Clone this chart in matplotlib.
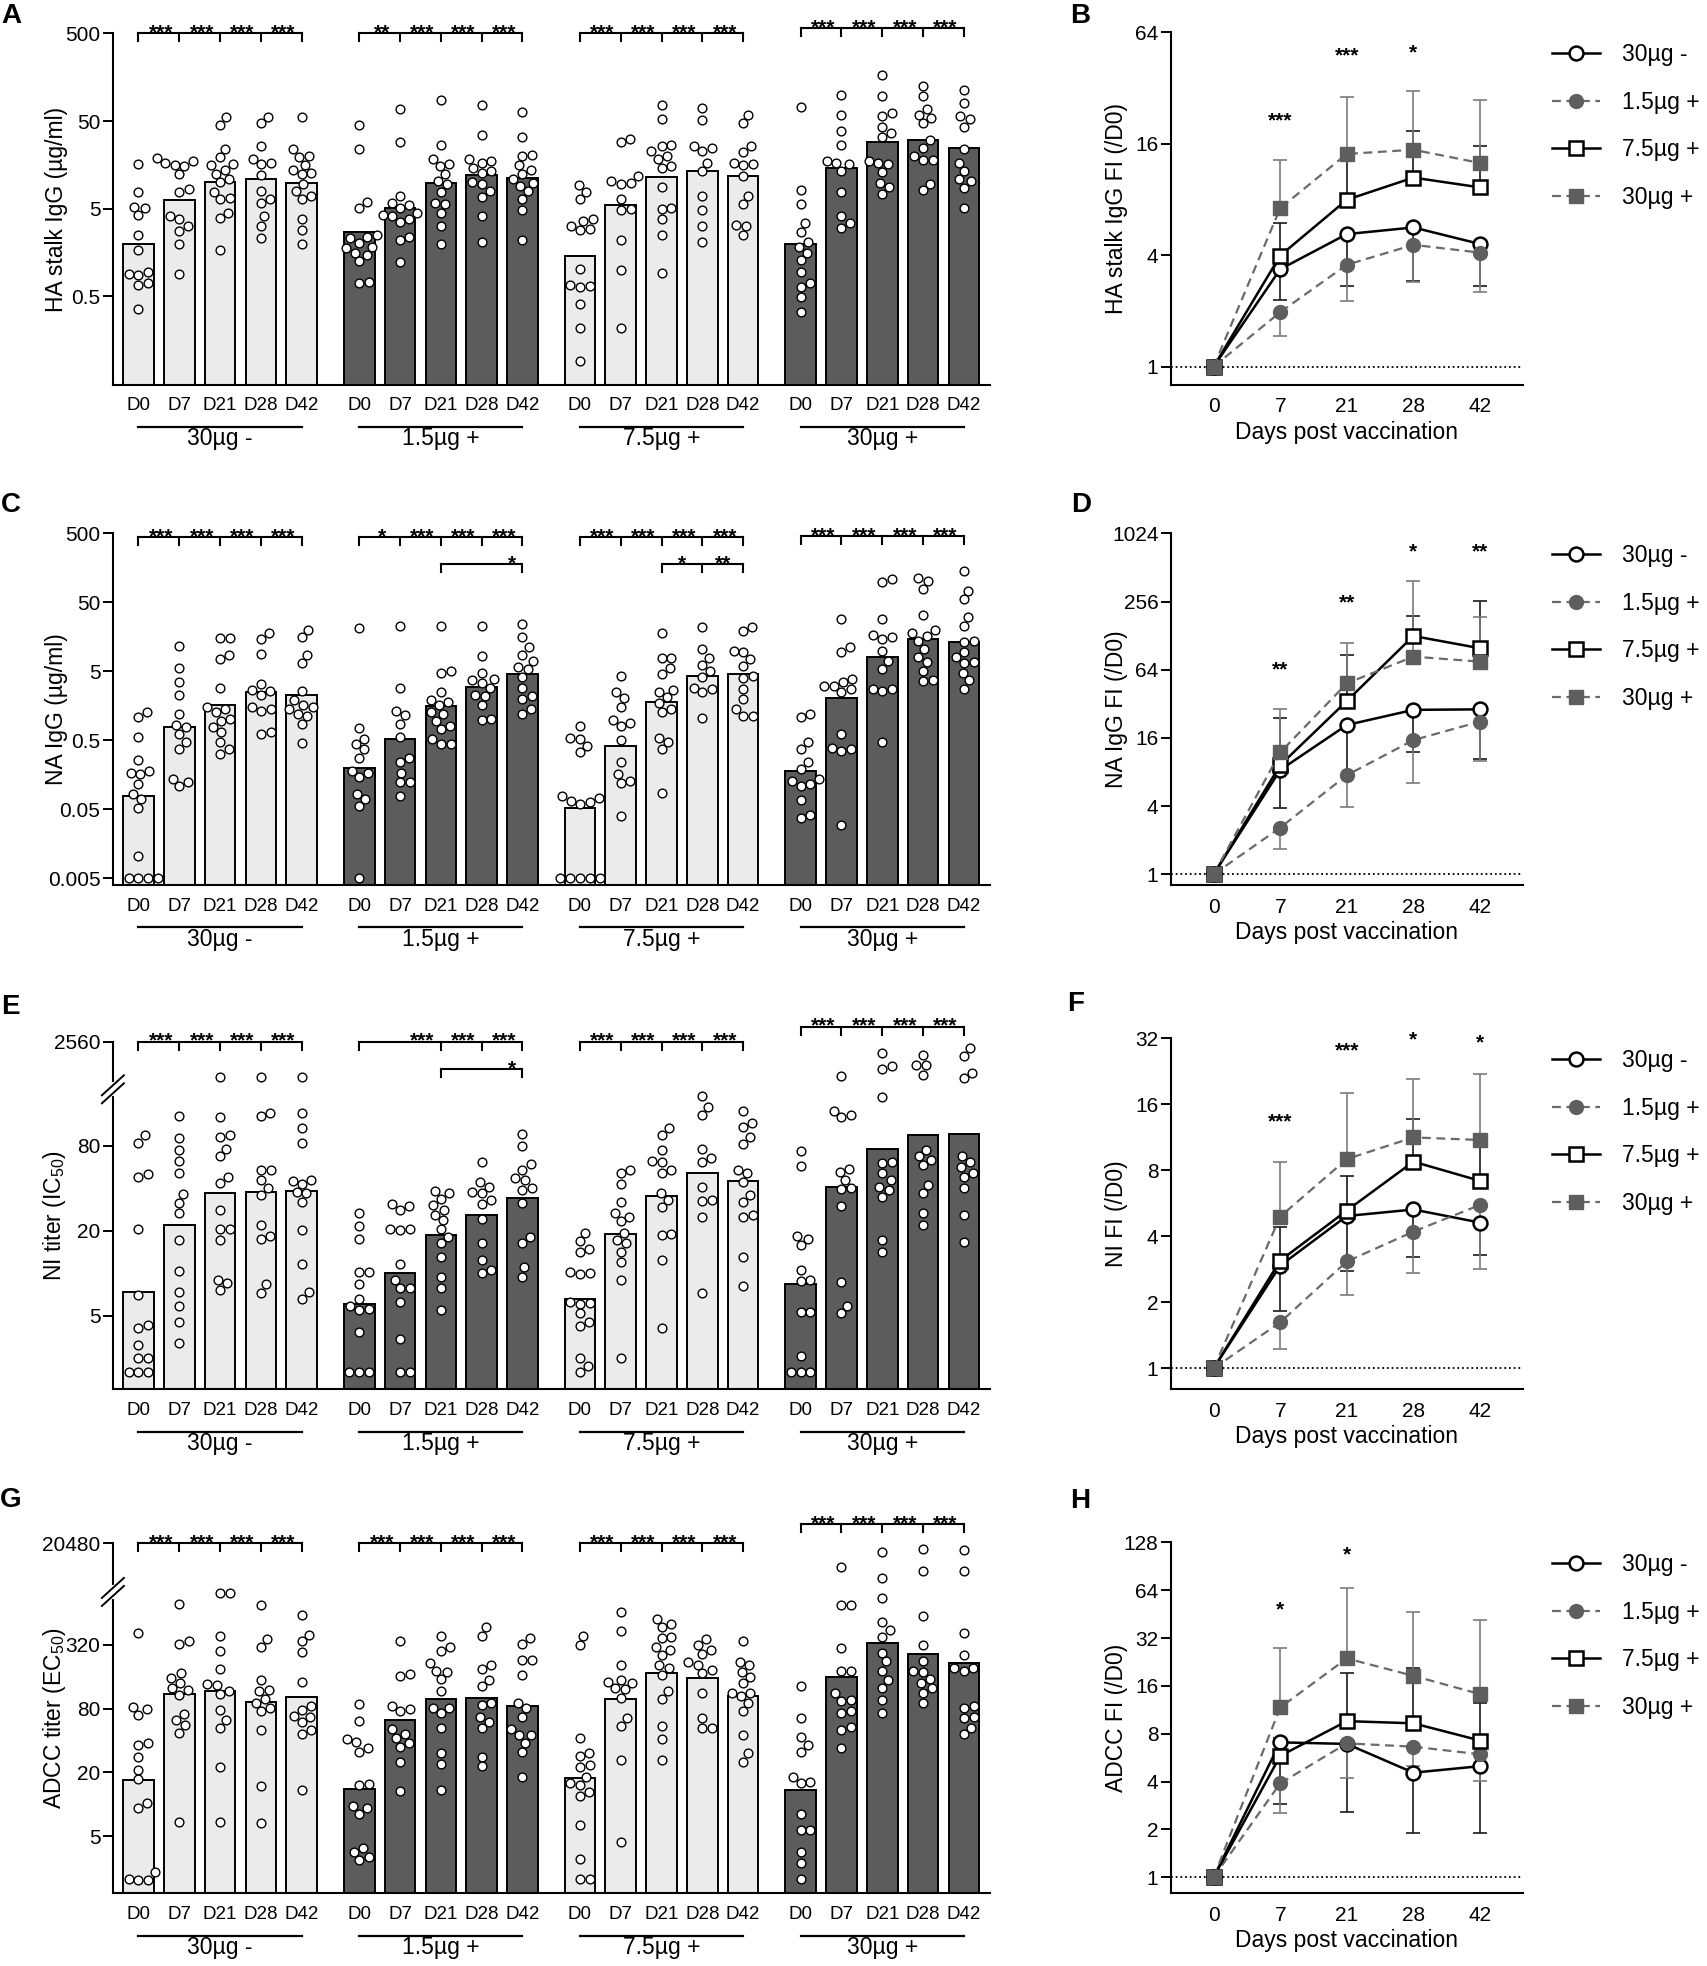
import numpy as np
import matplotlib
matplotlib.use('Agg')
import matplotlib.pyplot as plt
from matplotlib.ticker import FixedLocator, FixedFormatter, NullLocator

plt.rcParams['font.family'] = ['Liberation Sans', 'DejaVu Sans']
plt.rcParams['mathtext.fontset'] = 'custom'
plt.rcParams['mathtext.rm'] = 'Liberation Sans'
plt.rcParams['mathtext.it'] = 'Liberation Sans:italic'

W, H = 1708, 1966

groups = ['30µg -', '1.5µg +', '7.5µg +', '30µg +']
days = ['D0', 'D7', 'D21', 'D28', 'D42']
days_num = ['0', '7', '21', '28', '42']

# ---------------- bar panels: geometric mean bars + individual animals ----------------
ha_bar = [[1.96, 6.3, 10.1, 10.8, 9.9], [2.7, 5.1, 9.9, 12.1, 11.3],
          [1.44, 5.5, 11.5, 13.4, 11.8], [2.0, 14.7, 28.7, 30, 24.8]]
ha_pts = [
    [[16, 7.8, 5.3, 5.1, 4.2, 2.5, 1.7, 0.91, 0.95, 0.89, 0.72, 0.67, 0.36],
     [19.1, 17.5, 16.7, 15.6, 15.3, 12.3, 8.4, 7.8, 4.1, 3.8, 3.2, 2.8, 1.96, 0.91],
     [55.5, 45.6, 24.3, 19.4, 16, 15.7, 14, 12.6, 10.8, 10, 7.8, 6.7, 6.4, 4.5, 3.9, 1.7],
     [56, 47, 26, 18.6, 16.7, 16, 12, 7.9, 6.4, 5.8, 4.1, 3.2, 2.3],
     [55.5, 23.7, 19.9, 19.4, 15.7, 14, 12.9, 12.3, 9.5, 7.9, 7.0, 6.4, 3.8, 2.85, 1.96]],
    [[45, 24.3, 6.0, 5.1, 2.5, 2.4, 2.3, 2.05, 1.84, 1.8, 1.58, 1.47, 1.26, 0.73, 0.72],
     [68, 28.7, 6.97, 5.8, 5.5, 5.1, 4.5, 4.3, 4.1, 3.8, 3.5, 2.4, 2.2, 1.24],
     [87, 27, 18.6, 16, 15.3, 12.3, 10.3, 9.5, 7.8, 5.8, 5.7, 4.5, 3.2, 1.98],
     [77, 34.4, 18.6, 17.5, 16.7, 14.7, 13.4, 12.9, 10, 9.5, 7.9, 6.85, 4.1, 2.1],
     [64, 33, 20.3, 19.9, 15.6, 14, 12.3, 10.8, 9.9, 9.1, 7.9, 6.4, 4.8, 2.2]],
    [[9.3, 7.8, 6.4, 3.8, 3.6, 3.2, 2.95, 2.83, 1.03, 0.66, 0.65, 0.67, 0.41, 0.22, 0.091],
     [31.5, 28.7, 11.8, 10.3, 9.9, 9.7, 6.4, 5, 4.9, 2.2, 1.0, 0.22],
     [77, 53, 27, 25.9, 22.7, 19.9, 18.6, 15.3, 14.7, 8.9, 5.1, 5, 3.8, 2.5, 0.93],
     [71, 52, 25.9, 24.8, 22.7, 16.7, 13.4, 7.0, 4.9, 3.2, 2.1],
     [59, 47, 25.9, 22, 16.7, 16, 15.6, 11.8, 7.0, 5.6, 3.3, 3.2, 2.5]],
    [[73, 8.1, 5.7, 3.4, 2.7, 2.1, 1.84, 1.58, 1.31, 0.95, 0.72, 0.65, 0.49, 0.33],
     [100, 58, 38, 27, 17.5, 16.7, 16, 13.4, 7.8, 4.1, 3.4, 3.0],
     [168, 96, 61, 57, 43, 37, 33, 17.5, 16.7, 16, 13, 9.9, 8.9, 7.3],
     [127, 96, 68, 59, 54, 47, 30, 24.8, 19.9, 18.2, 17.8, 9.6, 8.1],
     [112, 81, 57, 53, 43, 24, 16.7, 13.4, 10.8, 10.3, 8.7, 5.1]]]

na_bar = [[0.079, 0.77, 1.6, 2.5, 2.3], [0.2, 0.52, 1.55, 3.0, 4.5],
          [0.053, 0.41, 1.78, 4.3, 4.5], [0.18, 2.05, 8.1, 14.7, 13.2]]
na_pts = [
    [[1.27, 1.08, 0.55, 0.26, 0.18, 0.17, 0.16, 0.116, 0.084, 0.071, 0.052, 0.0105, 0.005, 0.005, 0.005, 0.005],
     [11.8, 5.5, 3.55, 2.27, 1.22, 0.84, 0.78, 0.62, 0.47, 0.37, 0.138, 0.123, 0.108],
     [15.2, 15, 8.6, 7.5, 2.9, 1.5, 1.42, 1.27, 1.02, 0.96, 0.78, 0.65, 0.47, 0.37, 0.32],
     [18, 14.7, 8.9, 3.3, 2.7, 2.6, 2.3, 1.5, 1.42, 1.35, 0.65, 0.62],
     [19.9, 15.6, 8.7, 6.6, 2.6, 1.9, 1.6, 1.5, 1.42, 1.21, 1.14, 0.87, 0.46]],
    [[21, 0.75, 0.52, 0.44, 0.37, 0.28, 0.18, 0.17, 0.146, 0.084, 0.071, 0.055, 0.005],
     [23, 2.9, 1.35, 1.16, 0.87, 0.55, 0.28, 0.24, 0.17, 0.126, 0.123, 0.079],
     [23, 5, 4.8, 2.5, 1.95, 1.8, 1.6, 1.27, 1.2, 0.96, 0.81, 0.72, 0.52, 0.44, 0.44],
     [23, 8.3, 4.8, 3.9, 3.7, 3.4, 2.9, 2.3, 2.2, 1.62, 1.02, 1.0],
     [24.2, 15.9, 11.1, 8.7, 7.1, 5.7, 5.4, 4.1, 2.9, 2.2, 1.97, 1.42, 1.21]],
    [[0.81, 0.54, 0.52, 0.42, 0.34, 0.079, 0.072, 0.067, 0.063, 0.06, 0.005, 0.005, 0.005, 0.005, 0.005],
     [4.3, 2.5, 2.04, 1.5, 1.0, 0.89, 0.81, 0.5, 0.24, 0.164, 0.13, 0.12, 0.04],
     [18, 7.8, 7.7, 5.5, 4.6, 2.7, 2.5, 2.1, 1.74, 1.42, 1.27, 0.54, 0.48, 0.38, 0.087],
     [22.1, 10.5, 7.7, 6.2, 5.1, 4.1, 2.9, 2.8, 2.5, 1.04],
     [22, 19.5, 10, 9.4, 7.5, 6.0, 4.3, 4.0, 2.8, 1.97, 1.42, 1.14, 1.12]],
    [[1.21, 1.08, 0.47, 0.38, 0.24, 0.19, 0.138, 0.13, 0.116, 0.11, 0.069, 0.041, 0.037],
     [28.7, 11.1, 9.4, 3.9, 3.5, 3.1, 3.05, 2.8, 2.5, 0.62, 0.39, 0.38, 0.35, 0.03],
     [108, 97, 28.7, 16.8, 15.5, 14.7, 10, 7.1, 5.4, 2.8, 2.8, 2.6, 0.48],
     [111, 103, 77, 33, 20, 18, 16.4, 13.9, 10.5, 8.0, 6.9, 5.1, 3.7, 3.6],
     [144, 74, 55, 31, 23, 13.9, 13.2, 9.4, 8.0, 6.9, 6.7, 4.8, 3.7, 2.8]]]

ni_bar = [[7.4, 22, 37, 37.7, 38.3], [6.1, 10, 18.6, 26, 33.8],
          [6.6, 19, 35, 51, 44.6], [8.4, 41, 76, 95, 97]]
ni_pts = [
    [[95, 84, 50, 48, 20.7, 7.0, 4.3, 4.1, 3.1, 2.5, 2.5, 2.0, 2.0, 2.0],
     [130, 91, 74, 62, 51, 36.5, 31.5, 26.5, 17.3, 10.4, 7.4, 5.9, 4.5, 3.2],
     [1280, 127, 95, 92, 76, 67, 48, 43.7, 28.1, 20.7, 20.4, 17.3, 8.9, 8.5, 7.6],
     [1280, 136, 130, 54, 54, 46, 40, 35.7, 22, 18.3, 17.6, 8.4, 7.3],
     [1280, 136, 107, 84, 45.5, 44.9, 43.1, 37.7, 36.8, 32, 20.2, 11.7, 7.4, 6.6]],
    [[26.8, 21.6, 17.6, 10.2, 10.2, 8.4, 6.6, 5.9, 5.6, 5.5, 3.85, 2.0, 2.0, 2.0],
     [31, 29.8, 28.2, 20.7, 20.7, 20.2, 11.7, 8.9, 7.8, 7.8, 6.3, 3.4, 2.0, 2.0],
     [38.3, 36.8, 33.7, 30.4, 28.1, 26, 23.8, 20.4, 18.1, 16.3, 13.0, 9.4, 7.8, 5.5],
     [61, 44, 41, 37.7, 36.8, 33, 31, 24.1, 16.3, 12.5, 10.6, 10],
     [97, 79, 59, 54, 47, 45.5, 40, 39, 31.6, 17.9, 16.3, 11, 9.4]],
    [[19.4, 17, 14.8, 14.2, 10.2, 10, 9.8, 6.3, 6.2, 6.1, 5.2, 4.5, 4.2, 2.5, 2.2, 2.0],
     [54, 51, 42.6, 32, 26.6, 25.1, 23.3, 19.2, 17.3, 16.3, 14.2, 12.1, 9.0, 2.5],
     [106, 95, 75, 62, 61, 54, 51, 36.8, 33.2, 29.5, 19, 18.6, 12.5, 4.1],
     [178, 150, 131, 76, 65, 61, 40.9, 33.2, 32.2, 25.1, 7.2],
     [141, 116, 109, 92, 82, 54, 51, 44, 35.7, 32, 25.8, 25, 13, 8.1]],
    [[73, 57, 18.3, 17.6, 15.8, 10.6, 8.9, 8.8, 5.3, 5.3, 2.6, 2.0, 2.0, 2.0],
     [1285, 141, 131, 128, 55, 52, 45.5, 40, 39.3, 30, 8.7, 5.9, 5.2],
     [2040, 1567, 1486, 176, 61, 60, 51, 45.5, 41, 39, 34.6, 17.1, 14.2],
     [1970, 1622, 1600, 1327, 75, 67, 63, 58, 42.1, 36.8, 26.6, 22],
     [2250, 1935, 1390, 1242, 67, 61, 56, 51, 48, 40, 25.8, 16.7]]]

adcc_bar = [[17, 109, 118, 93, 102], [13.9, 62, 99, 101, 84],
            [17.7, 98, 171, 156, 104], [13.6, 158, 330, 260, 214]]
adcc_pts = [
    [[412, 83, 79, 70, 37.7, 36.4, 28.2, 21.3, 17.2, 10.3, 9.2, 2.3, 2.0, 1.96, 1.93],
     [776, 346, 325, 173, 154, 140, 124, 119, 108, 70.5, 62, 56, 47.1, 6.9],
     [970, 970, 385, 280, 187, 135, 133, 116, 109, 77, 63, 53, 22.4, 6.8],
     [752, 359, 305, 149, 119, 116, 98, 90, 81, 75, 50, 15, 6.7],
     [606, 395, 343, 271, 143, 84, 78, 68, 67, 60, 50, 46, 13.7]],
    [[89, 61, 41, 38.5, 33.9, 31.5, 15.6, 15.2, 9.7, 9.2, 8.2, 3.9, 3.6, 3.2, 3.0],
     [346, 169, 163, 84, 79, 75, 51, 46, 42, 37.7, 34.5, 25.3, 13.4],
     [385, 302, 280, 214, 182, 178, 151, 116, 81.5, 81.5, 72, 53, 30.4, 24, 13.7],
     [465, 385, 205, 188, 149, 129, 90, 87, 67, 60, 52, 28.2, 22.8],
     [366, 322, 229, 229, 165, 90, 81.5, 67, 51, 45, 45, 38, 31, 18.3]],
    [[385, 314, 42, 30.4, 28.7, 23.6, 22.7, 18, 15.9, 15.3, 13.2, 11.9, 6.4, 3.1, 2.0, 2.0],
     [650, 425, 206, 149, 143, 139, 124, 121, 100, 65, 55, 26.2, 4.4],
     [562, 502, 465, 376, 366, 305, 284, 257, 206, 191, 165, 116, 98, 55, 41, 26.3],
     [359, 318, 284, 263, 220, 206, 184, 171, 112, 65, 52, 52],
     [346, 220, 206, 178, 160, 139, 112, 112, 104, 90, 75, 45, 30.4, 25.3]],
    [[129, 65, 43, 35.9, 31.5, 18.3, 16.2, 15.9, 8.1, 5.8, 5.7, 3.6, 2.8, 2.0],
     [7530, 752, 752, 294, 182, 182, 112, 96, 95, 75, 72, 54, 50, 33.7],
     [14260, 4590, 877, 522, 437, 380, 269, 222, 182, 148, 124, 96, 72],
     [15740, 6250, 594, 318, 225, 182, 178, 153, 139, 124, 113, 90],
     [15350, 6300, 413, 257, 191, 191, 182, 84, 81.5, 67, 65, 53, 46]]]

# significance between consecutive time points, per group
sig_ha = [['***'] * 4, ['**', '***', '***', '***'], ['***'] * 4, ['***'] * 4]
sig_na = [['***'] * 4, ['*', '***', '***', '***'], ['***'] * 4, ['***'] * 4]
sig_ni = [['***'] * 4, ['', '***', '***', '***'], ['***'] * 4, ['***'] * 4]
sig_adcc = [['***'] * 4, ['***'] * 4, ['***'] * 4, ['***'] * 4]
# second-row brackets: group, tick days, stars (day position, text)
extra_na = [(1, [2, 4], [(3.75, '*')]), (2, [2, 3, 4], [(2.5, '*'), (3.5, '**')])]
extra_ni = [(1, [2, 4], [(3.75, '*')])]

# ---------------- fold increase panels ----------------
ha_fi = [[1, 3.36, 5.2, 5.65, 4.6], [1, 1.97, 3.55, 4.55, 4.13],
         [1, 3.98, 7.97, 10.5, 9.3], [1, 7.18, 14.1, 14.85, 12.6]]
ha_fi_err = [[2.3, 2.74, 2.9, 2.74], [1.47, 2.26, 2.85, 2.54],
             [6.0, 13.5, 18.7, 15.5], [13.1, 28.5, 30.7, 27.6]]
ha_fi_sig = [(1, '***', 22.9), (2, '***', 51.5), (3, '*', 53.6)]

na_fi = [[1, 8.34, 20.8, 28.3, 28.6], [1, 2.58, 7.5, 15.3, 22.3],
         [1, 9.2, 33.9, 127, 99], [1, 11.9, 48.5, 83.5, 75.4]]
na_fi_err = [[3.83, 7.6, 12.1, 10.4], [1.66, 3.95, 6.4, 10.0],
             [23.8, 86, 191, 261], [28.6, 111, 388, 185]]
na_fi_sig = [(1, '**', 73), (2, '**', 283), (3, '*', 807), (4, '**', 807)]

ni_fi = [[1, 2.94, 4.95, 5.3, 4.62], [1, 1.62, 3.07, 4.2, 5.56],
         [1, 3.1, 5.24, 8.76, 7.16], [1, 4.92, 9.0, 11.3, 11.0]]
ni_fi_err = [[1.83, 2.78, 3.23, 3.3], [1.23, 2.16, 2.71, 2.83],
             [4.4, 7.5, 13.7, 10.5], [8.76, 18, 20.9, 21.9]]
ni_fi_sig = [(1, '***', 14.3), (2, '***', 29.9), (3, '*', 33.8), (4, '*', 32.7)]

adcc_fi = [[1, 7.06, 6.9, 4.55, 5.0], [1, 3.9, 6.96, 6.63, 5.94],
           [1, 5.8, 9.6, 9.3, 7.25], [1, 11.7, 23.8, 18.5, 14.2]]
adcc_fi_err = [[2.88, 2.56, 1.91, 1.89], [2.55, 4.2, 5.0, 4.03],
               [7.5, 19.2, 20.8, 12.5], [27.5, 65.7, 46.9, 41.6]]
adcc_fi_sig = [(1, '*', 52.8), (2, '*', 117)]

err_dir = ['down', 'down', 'up', 'up']

GAP = 5.41
FILLS = ['#ebebeb', '#5c5c5c', '#ebebeb', '#5c5c5c']
GRAY = '#6a6a6a'


def broken_log(lo, hi, top, top_pos):
    # log axis with a compressed upper segment above an axis break
    lx = [-6.0, np.log10(lo), np.log10(hi), np.log10(top)]
    lp = [-6.0, np.log10(lo), np.log10(lo) + 1e-3, top_pos]
    k = (lp[3] - lp[2]) / (lx[3] - lx[2])
    lx.append(lx[3] + 3)
    lp.append(lp[3] + 3 * k)
    lx, lp = np.array(lx), np.array(lp)

    def fwd(v):
        v = np.clip(np.asarray(v, dtype=float), 1e-6, None)
        return np.interp(np.log10(v), lx, lp)

    def inv(p):
        return 10 ** np.interp(np.asarray(p, dtype=float), lp, lx)
    return fwd, inv


def px_axes(fig, left, top, right, bottom):
    return fig.add_axes([left / W, 1 - bottom / H, (right - left) / W, (bottom - top) / H])


def swarm(ypix, d):
    xs = np.zeros(len(ypix))
    placed = []
    for i in np.argsort(ypix):
        y = ypix[i]
        cands = [0.0]
        for px, py in placed:
            dy = abs(py - y)
            if dy < d:
                dx = np.sqrt(d * d - dy * dy)
                cands += [px + dx, px - dx]
        cands.sort(key=abs)
        for c in cands:
            if all((c - px) ** 2 + (y - py) ** 2 >= d * d - 1e-6 for px, py in placed):
                xs[i] = c
                break
        placed.append((xs[i], y))
    return xs


def star(ax, x, y, text, trans, dy=-3.5, size=15):
    ax.annotate(text, (x, y), xycoords=trans, xytext=(0, dy), textcoords='offset points',
                ha='center', va='baseline', fontsize=size, fontweight='bold',
                annotation_clip=False)


def bar_panel(ax, pts, bars, scale, ylim, ticks, labels, ylabel, sig, levels,
              extra=(), extra_level=0, brk=None):
    hpx = ax.get_position().height * H
    if scale == 'log':
        ax.set_yscale('log')
    else:
        ax.set_yscale('function', functions=scale)
    ax.set_ylim(*ylim)
    ax.set_xlim(-0.627, 20.87)
    ymin = ylim[0]
    for g in range(4):
        xs = g * GAP + np.arange(5)
        ax.bar(xs, np.array(bars[g]) - ymin, bottom=ymin, width=0.75, color=FILLS[g],
               edgecolor='black', linewidth=1.4, zorder=2)
    unit = ax.transData.transform((1, ymin))[0] - ax.transData.transform((0, ymin))[0]
    for g in range(4):
        for i in range(5):
            v = np.array(pts[g][i], dtype=float)
            xc = g * GAP + i
            ypix = ax.transData.transform(np.column_stack([np.full(len(v), xc), v]))[:, 1]
            off = swarm(ypix, 9.8) / unit
            ax.plot(xc + off, v, ls='none', marker='o', ms=6.3, mfc='white', mec='black',
                    mew=1.0, zorder=3, clip_on=False)

    ax.yaxis.set_major_locator(FixedLocator(ticks))
    ax.yaxis.set_major_formatter(FixedFormatter(labels))
    ax.yaxis.set_minor_locator(NullLocator())
    ax.set_xticks([g * GAP + i for g in range(4) for i in range(5)])
    ax.set_xticklabels(days * 4)
    ax.tick_params(axis='y', length=7, width=1.4, labelsize=15, pad=2)
    ax.tick_params(axis='x', length=0, labelsize=13.5, pad=9)
    for s in ('top', 'right'):
        ax.spines[s].set_visible(False)
    for s in ('left', 'bottom'):
        ax.spines[s].set_linewidth(1.5)
    ax.set_ylabel(ylabel, fontsize=16.5)
    ax.yaxis.set_label_coords(-0.051, 0.5)

    tr = ax.get_xaxis_transform()
    for g in range(4):
        x0 = g * GAP
        y = 1 + levels[g] / hpx
        ax.plot([x0, x0 + 4], [y, y], color='k', lw=1.5, transform=tr, clip_on=False)
        s = sig[g]
        for i in range(5):
            if i in (0, 4) or (s[i - 1] and s[i]):
                ax.plot([x0 + i, x0 + i], [y, y - 8 / hpx], color='k', lw=1.5,
                        transform=tr, clip_on=False)
        for i, t in enumerate(s):
            if t:
                star(ax, x0 + i + 0.55, y, t, tr)
        # group label under the axis
        ax.plot([x0, x0 + 4], [-42.3 / hpx] * 2, color='k', lw=1.6, transform=tr, clip_on=False)
        ax.text(x0 + 2, -54 / hpx, groups[g], transform=tr, ha='center', va='center',
                fontsize=16.5)
    for g, tks, stars in extra:
        x0 = g * GAP
        y = 1 + extra_level / hpx
        ax.plot([x0 + tks[0], x0 + tks[-1]], [y, y], color='k', lw=1.5, transform=tr,
                clip_on=False)
        for t in tks:
            ax.plot([x0 + t, x0 + t], [y, y - 8 / hpx], color='k', lw=1.5, transform=tr,
                    clip_on=False)
        for xs_, t in stars:
            star(ax, x0 + xs_, y, t, tr)

    if brk is not None:
        wpx = ax.get_position().width * W
        yb = ax.transAxes.inverted().transform(ax.transData.transform((0, brk)))[1]
        dx, dy = 11 / wpx, 10 / hpx
        ax.plot([0, 0], [yb - 5 / hpx, yb + 5 / hpx], color='white', lw=3,
                transform=ax.transAxes, clip_on=False, zorder=5)
        for sh in (-4, 4):
            ax.plot([-dx, dx], [yb + sh / hpx - dy, yb + sh / hpx + dy], color='k', lw=1.4,
                    transform=ax.transAxes, clip_on=False, zorder=6)


def line_panel(fig, ax, means, ends, ticks, ylabel, sigs, bottom, top_px):
    styles = [
        dict(color='black', ls='-', lw=1.8, marker='o', ms=10, mfc='white', mec='black', mew=1.8),
        dict(color=GRAY, ls=(0, (4, 2.5)), lw=1.6, marker='o', ms=10, mfc='#5e5e5e',
             mec='#5e5e5e', mew=1.0),
        dict(color='black', ls='-', lw=1.8, marker='s', ms=9.5, mfc='white', mec='black', mew=1.8),
        dict(color=GRAY, ls=(0, (4, 2.5)), lw=1.6, marker='s', ms=10, mfc='#5e5e5e',
             mec='#5e5e5e', mew=1.0)]
    ecols = ['#1a1a1a', '#7c7c7c', '#1a1a1a', '#7c7c7c']
    x = np.arange(5)
    ax.set_yscale('log', base=2)
    ax.set_ylim(bottom, ticks[-1])
    ax.set_xlim(-0.64, 4.64)
    ax.axhline(1, color='k', ls=(0, (1, 1.6)), lw=1.3, zorder=1)
    for k in range(4):
        m = np.array(means[k], dtype=float)
        e = np.array(ends[k], dtype=float)
        if err_dir[k] == 'down':
            yerr = [m[1:] - e, np.zeros(4)]
        else:
            yerr = [np.zeros(4), e - m[1:]]
        ax.errorbar(x[1:], m[1:], yerr=yerr, fmt='none', ecolor=ecols[k], elinewidth=1.2,
                    capsize=5, capthick=1.2, zorder=2)
    handles = []
    for k in range(4):
        h, = ax.plot(x, means[k], zorder=3 + k, label=groups[k], **styles[k])
        handles.append(h)
    ax.yaxis.set_major_locator(FixedLocator(ticks))
    ax.yaxis.set_major_formatter(FixedFormatter([str(t) for t in ticks]))
    ax.yaxis.set_minor_locator(NullLocator())
    ax.set_xticks(x)
    ax.set_xticklabels(days_num)
    ax.tick_params(axis='y', length=7, width=1.4, labelsize=15, pad=2)
    ax.tick_params(axis='x', length=0, labelsize=15, pad=9)
    for s in ('top', 'right'):
        ax.spines[s].set_visible(False)
    for s in ('left', 'bottom'):
        ax.spines[s].set_linewidth(1.5)
    ax.set_ylabel(ylabel, fontsize=16.5)
    ax.yaxis.set_label_coords(-0.122, 0.5)
    ax.set_xlabel('Days post vaccination', fontsize=16.5, labelpad=3)
    for xi, t, yv in sigs:
        star(ax, xi, yv, t, 'data', dy=-8.6)
    ax.legend(handles, groups, loc='upper left', bbox_to_anchor=(1552 / W, 1 - (top_px + 11) / H),
              bbox_transform=fig.transFigure, frameon=False, fontsize=16.5, handlelength=2.1,
              handletextpad=0.95, labelspacing=1.07, borderpad=0, borderaxespad=0)


fig = plt.figure(figsize=(W / 100, H / 100), dpi=100)

bar_rows = [(33.3, 385.0), (533.3, 885.0), (1041.7, 1389.3), (1543.3, 1893.3)]
line_rows = [(32.3, 385.0), (533.3, 885.0), (1038.3, 1389.3), (1542.3, 1893.3)]

axA = px_axes(fig, 112.9, bar_rows[0][0], 990.0, bar_rows[0][1])
bar_panel(axA, ha_pts, ha_bar, 'log', (0.049, 500), [0.5, 5, 50, 500],
          ['0.5', '5', '50', '500'], 'HA stalk IgG (µg/ml)', sig_ha, [0, 0, 0, 5])

axC = px_axes(fig, 112.9, bar_rows[1][0], 990.0, bar_rows[1][1])
bar_panel(axC, na_pts, na_bar, 'log', (0.004, 500), [0.005, 0.05, 0.5, 5, 50, 500],
          ['0.005', '0.05', '0.5', '5', '50', '500'], 'NA IgG (µg/ml)', sig_na,
          [-4, -4, -4, -3], extra_na, -31)

axE = px_axes(fig, 112.9, bar_rows[2][0], 990.0, bar_rows[2][1])
bar_panel(axE, ni_pts, ni_bar, broken_log(200, 1000, 2560, 2.6377), (1.51, 2560),
          [5, 20, 80, 2560], ['5', '20', '80', '2560'], 'NI titer (IC$_{50}$)', sig_ni,
          [0, 0, 0, 15], extra_ni, -27.6, brk=200)

axG = px_axes(fig, 112.9, bar_rows[3][0], 990.0, bar_rows[3][1])
bar_panel(axG, adcc_pts, adcc_bar, broken_log(1000, 2560, 20480, 3.4576), (1.46, 20480),
          [5, 20, 80, 320, 20480], ['5', '20', '80', '320', '20480'],
          'ADCC titer (EC$_{50}$)', sig_adcc, [0, 0, 0, 19], brk=1000)

line_specs = [
    (ha_fi, ha_fi_err, [1, 4, 16, 64], 'HA stalk IgG FI (/D0)', ha_fi_sig, 0.796),
    (na_fi, na_fi_err, [1, 4, 16, 64, 256, 1024], 'NA IgG FI (/D0)', na_fi_sig, 0.805),
    (ni_fi, ni_fi_err, [1, 2, 4, 8, 16, 32], 'NI FI (/D0)', ni_fi_sig, 0.802),
    (adcc_fi, adcc_fi_err, [1, 2, 4, 8, 16, 32, 64, 128], 'ADCC FI (/D0)', adcc_fi_sig, 0.793)]
for (top, bot), spec in zip(line_rows, line_specs):
    ax = px_axes(fig, 1171.0, top, 1522.6, bot)
    line_panel(fig, ax, *spec, top_px=top)

letters = [('A', 11, 16), ('B', 1080, 16), ('C', 11, 505), ('D', 1081, 505),
           ('E', 10, 1007), ('F', 1076, 1004), ('G', 11, 1500), ('H', 1080, 1501)]
for t, x, y in letters:
    fig.text(x / W, 1 - y / H, t, fontsize=20, fontweight='bold', ha='center', va='center')

fig.savefig('out.png', dpi=100)
